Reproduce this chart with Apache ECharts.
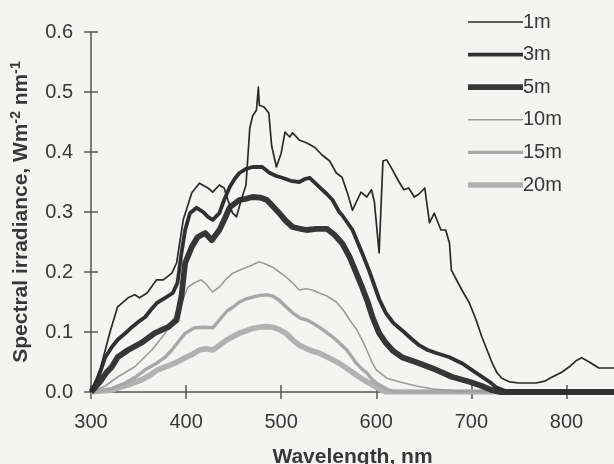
<!DOCTYPE html>
<html>
<head>
<meta charset="utf-8">
<script src="https://cdn.jsdelivr.net/npm/echarts@6/dist/echarts.min.js"></script>
<style>
html,body{margin:0;padding:0;background:#f4f4f2;}
#c{width:614px;height:464px;}
</style>
</head>
<body>
<div id="c"></div>
<script>
// Series names
const seriesNames = ['1m', '3m', '5m', '10m', '15m', '20m'];
// Axis tick values
const xTicks = [300, 400, 500, 600, 700, 800];
const yTicks = [0, 0.1, 0.2, 0.3, 0.4, 0.5, 0.6];

// 1 m
const wl1 = [300,310,320,328,339,346,351,359,369,376,385,390,397,406,414,423,428,435,440,444,449,453,458,463,467,470,474,476,477,482,487,490,495,500,504,509,512,519,527,535,543,551,558,564,570,575,580,584,590,595,598,603,607,611,616,624,629,634,640,645,651,656,661,668,673,677,679,690,698,705,711,717,722,727,732,740,750,768,777,785,795,803,810,816,824,834,850];
const v1 = [0,0.04,0.1,0.142,0.157,0.162,0.157,0.165,0.187,0.187,0.198,0.215,0.287,0.332,0.348,0.34,0.333,0.345,0.34,0.32,0.298,0.292,0.32,0.345,0.44,0.46,0.47,0.508,0.478,0.475,0.465,0.41,0.375,0.398,0.433,0.425,0.432,0.42,0.415,0.408,0.395,0.385,0.365,0.358,0.33,0.303,0.32,0.333,0.325,0.337,0.317,0.232,0.385,0.387,0.373,0.35,0.337,0.34,0.325,0.33,0.34,0.282,0.298,0.27,0.27,0.248,0.203,0.17,0.148,0.12,0.092,0.068,0.048,0.032,0.023,0.017,0.015,0.015,0.018,0.025,0.033,0.042,0.052,0.057,0.05,0.04,0.04];

// 3 m
const wl3 = [300,308,315,322,328,336,343,350,357,363,369,378,386,391,395,399,404,411,418,423,428,435,440,446,451,456,463,470,480,488,495,501,510,519,525,530,540,548,554,561,564,575,585,593,603,610,618,627,636,645,654,663,677,690,705,719,726,735,750,850];
const v3 = [0,0.025,0.058,0.075,0.087,0.098,0.108,0.117,0.125,0.137,0.148,0.157,0.165,0.182,0.23,0.27,0.298,0.307,0.3,0.292,0.287,0.298,0.32,0.342,0.355,0.365,0.372,0.375,0.375,0.365,0.36,0.357,0.352,0.35,0.355,0.357,0.342,0.33,0.32,0.3,0.295,0.27,0.232,0.2,0.155,0.132,0.115,0.103,0.09,0.078,0.07,0.065,0.058,0.048,0.032,0.017,0.008,0.002,0,0];

// 5 m
const wl5 = [300,310,316,322,328,339,353,367,381,390,395,399,406,412,420,427,435,441,446,456,463,470,478,485,491,498,505,512,520,527,537,548,556,564,572,579,585,591,596,603,610,618,627,645,663,680,698,711,720,730,850];
const v5 = [0,0.018,0.032,0.042,0.058,0.07,0.082,0.098,0.108,0.12,0.158,0.215,0.242,0.258,0.265,0.253,0.27,0.29,0.308,0.32,0.322,0.325,0.324,0.32,0.31,0.298,0.285,0.275,0.272,0.27,0.272,0.272,0.262,0.248,0.225,0.198,0.175,0.15,0.125,0.098,0.082,0.068,0.058,0.048,0.037,0.025,0.017,0.01,0.004,0,0];

// 10 m
const wl10 = [300,315,328,346,364,378,388,395,402,409,416,421,425,428,435,442,449,456,464,470,477,484,491,498,505,512,519,526,533,540,548,558,566,572,579,585,590,596,600,611,624,642,660,690,850];
const v10 = [0,0.01,0.025,0.042,0.07,0.098,0.125,0.148,0.175,0.182,0.187,0.18,0.172,0.167,0.175,0.188,0.198,0.203,0.208,0.212,0.217,0.213,0.208,0.2,0.192,0.182,0.17,0.172,0.17,0.165,0.16,0.15,0.135,0.12,0.105,0.087,0.07,0.048,0.037,0.023,0.017,0.01,0.005,0.001,0];

// 15 m
const wl15 = [300,320,336,347,357,368,378,385,391,399,409,420,428,435,443,450,456,463,470,478,485,491,498,505,512,520,527,534,540,547,554,561,569,575,579,585,590,596,603,612,620,850];
const v15 = [0,0.005,0.015,0.025,0.037,0.047,0.058,0.07,0.082,0.098,0.107,0.108,0.107,0.12,0.135,0.142,0.15,0.155,0.158,0.161,0.162,0.16,0.153,0.142,0.132,0.123,0.12,0.114,0.108,0.1,0.092,0.082,0.07,0.057,0.048,0.038,0.032,0.02,0.012,0.004,0,0];

// 20 m
const wl20 = [300,320,335,353,362,370,380,388,399,407,414,421,428,435,443,450,456,463,470,477,484,491,498,505,512,519,527,533,540,550,561,571,582,589,596,603,610,850];
const v20 = [0,0.003,0.01,0.02,0.028,0.037,0.043,0.048,0.057,0.063,0.07,0.072,0.07,0.078,0.087,0.093,0.098,0.102,0.106,0.108,0.109,0.108,0.104,0.098,0.087,0.078,0.072,0.068,0.065,0.057,0.048,0.037,0.025,0.018,0.012,0.005,0,0];

const wls = [wl1, wl3, wl5, wl10, wl15, wl20];
const vals = [v1, v3, v5, v10, v15, v20];
const styles = [
  {color:'#2a2a2a', width:1.7, z:6},
  {color:'#303030', width:3.8, z:5},
  {color:'#363636', width:5.8, z:4},
  {color:'#9c9c9c', width:1.6, z:3},
  {color:'#a8a8a8', width:3.4, z:2},
  {color:'#b2b2b2', width:5.6, z:1}
];

const FONT = '"Liberation Sans", Arial, sans-serif';
const TXT = '#383838';
const AX = '#555555';

// legend icon: a horizontal bar of the series line width inside a 55x14 box
function barIcon(w) {
  const y0 = (7 - w / 2).toFixed(2);
  return 'path://M0,0h0.01v0.01h-0.01z M0,' + y0 + 'h55v' + w + 'h-55z M54.99,13.99h0.01v0.01h-0.01z';
}

const series = seriesNames.map((n, i) => ({
  name: n,
  type: 'line',
  xAxisIndex: 0,
  yAxisIndex: 0,
  symbol: 'none',
  z: styles[i].z,
  lineStyle: {color: styles[i].color, width: styles[i].width, join: 'round'},
  itemStyle: {color: styles[i].color, borderWidth: 0},
  data: wls[i].map((w, j) => [w, vals[i][j]])
}));

const chart = echarts.init(document.getElementById('c'), null, {renderer: 'canvas'});
chart.setOption({
  backgroundColor: '#f4f4f2',
  animation: false,
  grid: {left: 91, top: 32, right: 0, bottom: 72, containLabel: false, outerBoundsMode: 'none'},
  legend: {
    orient: 'vertical',
    left: 463,
    top: 7,
    itemWidth: 55,
    itemHeight: 14,
    itemGap: 12.6,
    itemStyle: {borderWidth: 0},
    data: seriesNames.map((n, i) => ({
      name: n,
      icon: barIcon(styles[i].width),
      itemStyle: {color: styles[i].color, borderWidth: 0}
    })),
    textStyle: {fontSize: 20, color: TXT, fontFamily: FONT, padding: [0,0,0,-5]}
  },
  xAxis: [{
    type: 'value', min: 300, max: 850, interval: 100,
    position: 'bottom',
    name: 'Wavelength, nm', nameLocation: 'middle', nameGap: 55,
    nameTextStyle: {fontSize: 21, fontWeight: 'bold', color: TXT, fontFamily: FONT},
    axisLine: {show: true, lineStyle: {color: AX, width: 1.5}},
    axisTick: {show: true, inside: false, length: 7, lineStyle: {color: AX, width: 1.5}, customValues: xTicks},
    axisLabel: {fontSize: 20, color: TXT, fontFamily: FONT, margin: 20, customValues: xTicks},
    splitLine: {show: false}
  }, {
    type: 'value', min: 300, max: 850, interval: 100,
    position: 'bottom',
    axisLine: {show: false},
    axisTick: {show: true, inside: true, length: 7, lineStyle: {color: AX, width: 1.5}, customValues: xTicks},
    axisLabel: {show: false},
    splitLine: {show: false}
  }],
  yAxis: [{
    type: 'value', min: 0, max: 0.6, interval: 0.1,
    position: 'left',
    name: '{a|Spectral irradiance, Wm}{s|-2}{a| nm}{s|-1}',
    nameLocation: 'middle', nameGap: 58,
    nameTextStyle: {
      fontSize: 21, fontWeight: 'bold', color: TXT, fontFamily: FONT,
      rich: {
        a: {fontSize: 21, fontWeight: 'bold', color: TXT, fontFamily: FONT},
        s: {fontSize: 14, fontWeight: 'bold', color: TXT, fontFamily: FONT, verticalAlign: 'top', padding: [0,0,10,0]}
      }
    },
    axisLine: {show: true, lineStyle: {color: AX, width: 1.5}},
    axisTick: {show: true, inside: false, length: 7, lineStyle: {color: AX, width: 1.5}},
    axisLabel: {fontSize: 20, color: TXT, fontFamily: FONT, margin: 18, formatter: v => v.toFixed(1)},
    splitLine: {show: false}
  }, {
    type: 'value', min: 0, max: 0.6, interval: 0.1,
    position: 'left',
    axisLine: {show: false},
    axisTick: {show: true, inside: true, length: 7, lineStyle: {color: AX, width: 1.5}},
    axisLabel: {show: false},
    splitLine: {show: false}
  }],
  series: series
});
</script>
</body>
</html>
